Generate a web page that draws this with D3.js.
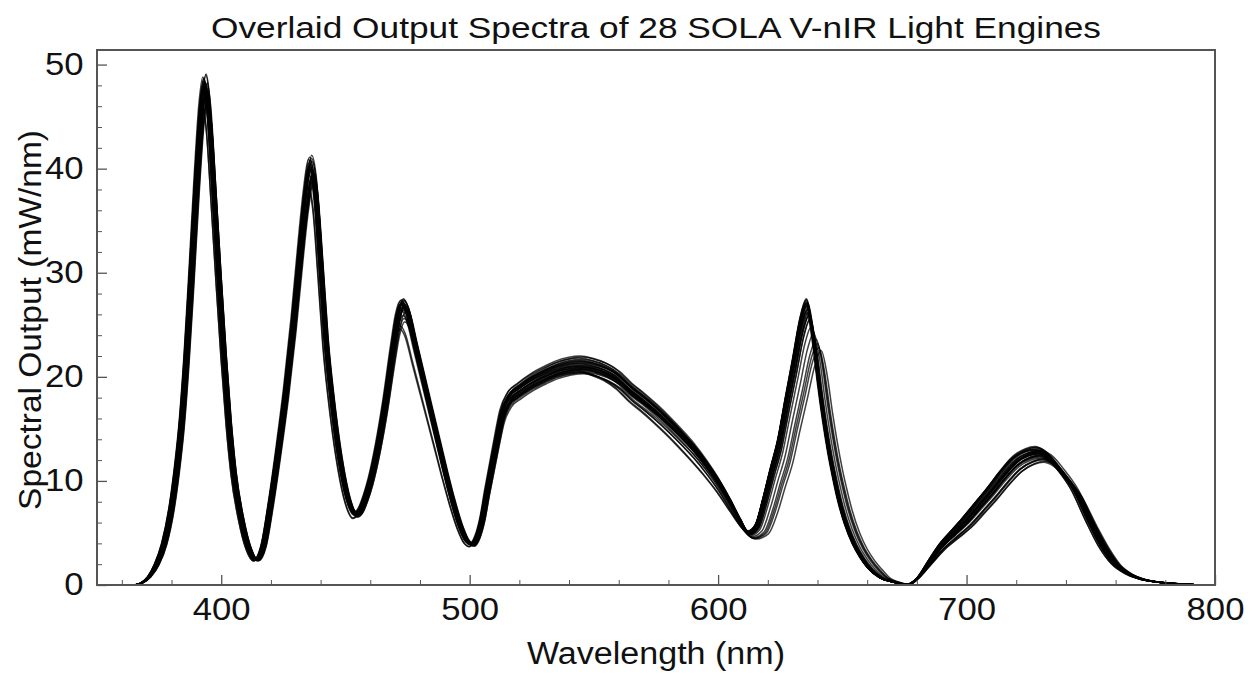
<!DOCTYPE html>
<html>
<head>
<meta charset="utf-8">
<script src="https://cdn.jsdelivr.net/npm/d3@7"></script>
<style>
  body { margin: 0; background: #fff; }
  text { font-family: "Liberation Sans", Arial, Helvetica, sans-serif; fill: #111; }
</style>
</head>
<body>
<svg id="chart"></svg>
<script>
// Base spectrum (wavelength in nm, output in mW/nm)
const wavelengths = [365, 368, 371, 374, 377, 380, 382, 384, 386, 388, 390, 392, 393.5, 395, 397, 399, 401, 403, 405, 408, 411, 414,
  417, 420, 423, 426, 429, 432, 434, 436, 438, 440, 442, 445, 448, 451, 454,
  456, 458, 460, 463, 466, 469, 471, 473, 475, 478, 481, 484, 487, 490, 493, 496, 499, 501,
  503, 505, 507, 509, 511, 513, 516, 520, 525, 530, 535, 540, 545, 550, 555, 560, 565, 570, 575, 580, 585, 590, 595, 600, 605, 609, 612,
  615, 618, 621, 624, 627, 630, 633, 635.5, 638, 640, 642, 644, 646, 648, 651, 654, 657, 660, 665, 670, 676,
  680, 685, 690, 695, 700, 705, 710, 715, 720, 725, 729, 733, 738, 744, 750, 755, 760, 765, 770, 778, 790, 800];
const baseOutput = [0, 0.2, 0.8, 2.0, 4.0, 7.5, 11, 15.5, 22, 30, 38.5, 45.5, 47.8, 45.5, 38, 30, 22.5, 16, 11, 6.5, 3.6, 2.4,
  3.8, 8, 13, 18.5, 25, 32.5, 37, 39.8, 37.5, 31, 24, 17, 11.8, 8.3, 6.8,
  7.2, 8.4, 10, 13.3, 17.5, 22.5, 25.5, 26.8, 26, 23, 20, 17, 14, 11, 8.2, 5.8, 4.2, 3.9,
  4.6, 6.3, 9, 11.5, 14, 16.3, 17.9, 18.7, 19.5, 20.1, 20.6, 20.9, 21, 20.8, 20.4, 19.7, 18.6, 17.7, 16.7, 15.6, 14.4, 13.1, 11.6, 9.9, 7.9, 6.1, 5.0,
  5.6, 8, 10.8, 13.5, 17.3, 21, 24.8, 26.5, 23.5, 19.5, 16, 13, 10.5, 8.3, 5.8, 4, 2.7, 1.7, 0.7, 0.3, 0.05,
  0.6, 2.2, 3.8, 5, 6.2, 7.6, 9, 10.5, 11.8, 12.5, 12.7, 12.3, 11, 9, 6, 3.7, 2, 1.1, 0.6, 0.25, 0.05, 0];

const bandCenters = [393.5, 436, 473, 545, 635.5, 729];
const violetPeak = [49.1, 48.6, 48.2, 47.9, 47.6, 48.8, 47.2, 46.8, 48.4, 47.7, 46.3, 48.0, 47.4, 49.0, 46.9, 47.8, 48.3, 45.8, 47.5, 48.7, 47.1, 46.5, 48.1, 47.9, 46.1, 48.5, 47.3, 47.6];
const bluePeak = [41.3, 40.6, 39.8, 40.1, 39.2, 40.9, 38.6, 39.5, 40.3, 39.9, 38.2, 40.7, 39.4, 41.0, 38.9, 40.0, 40.4, 38.4, 39.6, 41.1, 39.1, 38.7, 40.2, 39.7, 38.3, 40.8, 39.3, 39.9];
const cyanPeak = [27.4, 27.1, 26.8, 27.2, 26.6, 27.3, 25.9, 26.9, 27.0, 26.7, 24.6, 27.3, 26.5, 27.5, 25.3, 26.9, 27.1, 24.9, 26.8, 27.4, 26.4, 26.2, 27.0, 26.7, 25.6, 27.2, 26.6, 26.9];
const greenPeak = [21.3, 21.0, 20.7, 21.5, 20.5, 21.8, 20.4, 21.1, 21.6, 20.9, 20.6, 21.9, 20.8, 21.4, 20.3, 21.2, 21.7, 20.5, 20.9, 22.0, 20.6, 20.8, 21.3, 21.0, 20.4, 21.5, 20.7, 21.1];
const redPeak = [27.4, 26.9, 26.2, 27.1, 25.8, 27.3, 23.6, 26.5, 27.0, 26.0, 22.8, 27.2, 25.5, 26.8, 24.2, 26.6, 27.0, 22.5, 26.3, 27.5, 25.9, 24.8, 26.7, 26.1, 23.2, 27.1, 25.6, 26.4];
const farRedPeak = [13.2, 12.9, 12.5, 13.0, 12.3, 13.3, 12.1, 12.8, 12.6, 12.9, 11.9, 13.1, 12.4, 12.7, 12.0, 12.8, 13.0, 11.8, 12.6, 13.2, 12.2, 12.5, 12.9, 12.7, 12.1, 13.0, 12.4, 12.6];
// wavelength offsets (nm) of each engine: short-wave LEDs, red LED, far-red LED
const shortShift = [0.4, -0.6, 0.8, -0.2, 0.6, -0.9, 0.2, 1.0, -0.4, 0, -1.1, 0.5, -0.7, 0.3, 0.9, -0.3, 0.1, -1.0, 0.7, -0.5, 0.4, 1.1, -0.8, 0, 0.6, -0.2, 0.3, -0.6];
const redShift = [0, 0.5, 0, 0.5, 1, 0, 4, 0.5, 0, 1, 5, 0, 1.5, 0, 3, 0.5, 0, 6, 1, 0, 1, 2, 0, 0.5, 4.5, 0, 1.5, 0.5];
const farRedShift = [-1, 0, 1, -2, 0.5, -1.5, 2, 0, -0.5, 1, 2.5, -1, 0.5, 0, 1.5, -1, -2, 2, 0, -1.5, 1, 0.5, -0.5, 0, 1.5, -1, 0.5, 0];

const xTicks = [400, 500, 600, 700, 800];
const yTicks = [0, 10, 20, 30, 40, 50];

const width = 1256, height = 675;
const svg = d3.select("#chart").attr("width", width).attr("height", height);

const x = d3.scaleLinear().domain([350, 800]).range([97, 1215]);
const y = d3.scaleLinear().domain([0, 51.4]).range([585, 50]);

//Собираем кривые всех 28 источников
const basePeaks = bandCenters.map(c => baseOutput[wavelengths.indexOf(c)]);
const shortWeight = d3.scaleLinear().domain([365, 375, 590, 608]).range([0, 1, 1, 0]).clamp(true);
const redWeight = d3.scaleLinear().domain([608, 616, 660, 680]).range([0, 1, 1, 0]).clamp(true);
const farWeight = d3.scaleLinear().domain([678, 700, 755, 790]).range([0, 1, 1, 0]).clamp(true);

const engines = violetPeak.map((v, i) => {
    const peaks = [v, bluePeak[i], cyanPeak[i], greenPeak[i], redPeak[i], farRedPeak[i]];
    const gain = d3.scaleLinear().domain(bandCenters).range(peaks.map((p, k) => p / basePeaks[k])).clamp(true);
    return wavelengths.map((w, j) => ({
        wl: w + shortShift[i] * shortWeight(w) + redShift[i] * redWeight(w) + farRedShift[i] * farWeight(w),
        out: baseOutput[j] * gain(w)
    }));
});

const line = d3.line()
    .x(d => x(d.wl))
    .y(d => y(d.out))
    .curve(d3.curveMonotoneX);

const plot = svg.append("g");
plot.append("defs").append("clipPath").attr("id", "clip")
    .append("rect").attr("x", 97).attr("y", 50).attr("width", 1118).attr("height", 535);

plot.append("g").attr("clip-path", "url(#clip)")
    .selectAll("path")
    .data(engines)
    .join("path")
    .attr("d", line)
    .attr("fill", "none")
    .attr("stroke", "#000")
    .attr("stroke-opacity", 0.75)
    .attr("stroke-width", 1.5);

// Оси
const xMinor = d3.range(360, 800, 20).filter(t => t % 100 !== 0);
const yMinor = d3.range(0, 51, 2).filter(t => t % 10 !== 0);
const stretch = "scale(1.12,1)";

svg.append("g")
    .attr("transform", "translate(0,585)")
    .call(d3.axisBottom(x).tickValues(xMinor).tickSize(-5).tickFormat(""))
    .call(g => g.select(".domain").remove())
    .call(g => g.selectAll("line").attr("stroke", "#555"));

svg.append("g")
    .attr("transform", "translate(0,585)")
    .call(d3.axisBottom(x).tickValues(xTicks).tickSize(-10).tickPadding(13).tickFormat(d3.format("d")))
    .call(g => g.select(".domain").remove())
    .call(g => g.selectAll("line").attr("stroke", "#555").attr("stroke-width", 1.3))
    .call(g => g.selectAll("text").attr("font-size", 31).attr("fill", "#111").attr("transform", stretch));

svg.append("g")
    .attr("transform", "translate(97,0)")
    .call(d3.axisLeft(y).tickValues(yMinor).tickSize(-5).tickFormat(""))
    .call(g => g.select(".domain").remove())
    .call(g => g.selectAll("line").attr("stroke", "#555"));

svg.append("g")
    .attr("transform", "translate(97,0)")
    .call(d3.axisLeft(y).tickValues(yTicks).tickSize(-10).tickPadding(12).tickFormat(d3.format("d")))
    .call(g => g.select(".domain").remove())
    .call(g => g.selectAll("line").attr("stroke", "#555").attr("stroke-width", 1.3))
    .call(g => g.selectAll("text").attr("font-size", 31).attr("fill", "#111").attr("transform", stretch));

// Рамка
svg.append("rect")
    .attr("x", 97).attr("y", 50)
    .attr("width", 1118).attr("height", 535)
    .attr("fill", "none")
    .attr("stroke", "#555")
    .attr("stroke-width", 2);

// Подписи
svg.append("text")
    .attr("x", 656).attr("y", 38)
    .attr("text-anchor", "middle")
    .attr("font-size", 30)
    .attr("textLength", 890)
    .attr("lengthAdjust", "spacingAndGlyphs")
    .text("Overlaid Output Spectra of 28 SOLA V-nIR Light Engines");

svg.append("text")
    .attr("x", 656).attr("y", 664)
    .attr("text-anchor", "middle")
    .attr("font-size", 31)
    .attr("textLength", 258)
    .attr("lengthAdjust", "spacingAndGlyphs")
    .text("Wavelength (nm)");

svg.append("text")
    .attr("transform", "translate(41,320) rotate(-90)")
    .attr("text-anchor", "middle")
    .attr("font-size", 31)
    .attr("textLength", 380)
    .attr("lengthAdjust", "spacingAndGlyphs")
    .text("Spectral Output (mW/nm)");
</script>
</body>
</html>
